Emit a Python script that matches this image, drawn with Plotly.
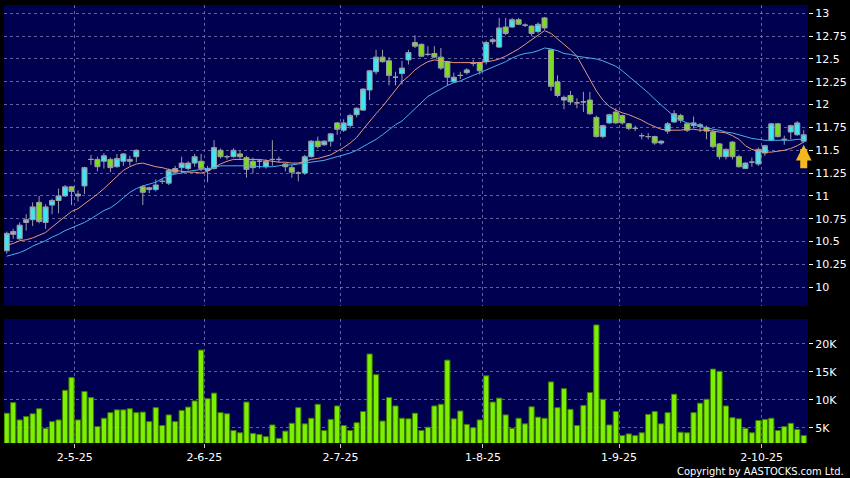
import pandas as pd
import plotly.graph_objects as go

# ---------------- data ----------------
holidays = ["2025-04-18", "2025-04-21", "2025-05-01", "2025-05-05",
            "2025-07-01", "2025-10-01", "2025-10-07"]
dates = [d.strftime("%Y-%m-%d") for d in pd.bdate_range("2025-04-14", "2025-10-13")
         if d.strftime("%Y-%m-%d") not in holidays]

opens = [10.40, 10.58, 10.53, 10.71, 10.74, 10.93, 10.71, 10.90, 10.95, 11.00,
         11.10, 11.00, 11.11, 11.40, 11.40, 11.38, 11.40, 11.32, 11.38, 11.40,
         11.43, 11.10, 11.09, 11.07, 11.16, 11.14, 11.30, 11.31, 11.30, 11.36,
         11.38, 11.28, 11.30, 11.50, 11.43, 11.43, 11.46, 11.42, 11.38, 11.38,
         11.32, 11.40, 11.40, 11.35, 11.31, 11.25, 11.25, 11.43, 11.60, 11.56,
         11.60, 11.80, 11.72, 11.77, 11.89, 11.94, 12.16, 12.36, 12.52, 12.48,
         12.30, 12.34, 12.49, 12.68, 12.66, 12.55, 12.56, 12.52, 12.47, 12.25,
         12.32, 12.35, 12.45, 12.46, 12.47, 12.69, 12.63, 12.85, 12.85, 12.93,
         12.87, 12.86, 12.80, 12.95, 12.60, 12.25, 12.05, 12.10, 12.02, 12.03,
         12.05, 11.86, 11.65, 11.80, 11.92, 11.88, 11.79, 11.74, 11.66, 11.65,
         11.65, 11.58, 11.71, 11.81, 11.88, 11.79, 11.77, 11.78, 11.75, 11.70,
         11.57, 11.43, 11.59, 11.43, 11.30, 11.37, 11.35, 11.47, 11.61, 11.79,
         11.62, 11.70, 11.67, 11.60]
highs = [10.61, 10.64, 10.71, 10.80, 10.93, 11.00, 10.91, 10.97, 11.08, 11.12,
         11.11, 11.06, 11.32, 11.45, 11.43, 11.47, 11.42, 11.46, 11.47, 11.44,
         11.51, 11.12, 11.10, 11.18, 11.19, 11.30, 11.33, 11.43, 11.38, 11.46,
         11.46, 11.33, 11.61, 11.52, 11.45, 11.52, 11.50, 11.44, 11.42, 11.40,
         11.40, 11.61, 11.43, 11.36, 11.34, 11.27, 11.45, 11.61, 11.65, 11.61,
         11.69, 11.81, 11.84, 11.90, 11.97, 12.18, 12.38, 12.60, 12.60, 12.52,
         12.36, 12.48, 12.60, 12.76, 12.67, 12.64, 12.64, 12.62, 12.48, 12.35,
         12.36, 12.40, 12.49, 12.47, 12.70, 12.73, 12.95, 12.95, 12.95, 12.95,
         12.89, 12.87, 12.90, 12.96, 12.60, 12.32, 12.10, 12.15, 12.07, 12.14,
         12.14, 11.88, 11.78, 11.90, 11.96, 11.89, 11.80, 11.77, 11.69, 11.69,
         11.66, 11.61, 11.81, 11.94, 11.90, 11.80, 11.87, 11.80, 11.77, 11.72,
         11.58, 11.52, 11.60, 11.45, 11.37, 11.42, 11.53, 11.56, 11.80, 11.80,
         11.66, 11.78, 11.82, 11.72]
lows = [10.37, 10.53, 10.52, 10.62, 10.67, 10.70, 10.64, 10.80, 10.81, 10.99,
        10.90, 10.94, 11.02, 11.34, 11.27, 11.30, 11.26, 11.31, 11.33, 11.33,
        11.37, 10.90, 11.03, 11.05, 11.13, 11.12, 11.24, 11.25, 11.28, 11.32,
        11.27, 11.15, 11.29, 11.41, 11.40, 11.42, 11.40, 11.20, 11.25, 11.30,
        11.30, 11.33, 11.37, 11.27, 11.20, 11.16, 11.23, 11.42, 11.52, 11.55,
        11.54, 11.67, 11.70, 11.74, 11.86, 11.93, 12.05, 12.33, 12.46, 12.21,
        12.21, 12.22, 12.44, 12.62, 12.52, 12.53, 12.51, 12.38, 12.21, 12.24,
        12.28, 12.33, 12.42, 12.33, 12.44, 12.66, 12.62, 12.76, 12.84, 12.87,
        12.85, 12.75, 12.78, 12.82, 12.15, 12.08, 11.95, 12.00, 11.96, 11.92,
        11.89, 11.64, 11.63, 11.79, 11.79, 11.78, 11.72, 11.71, 11.62, 11.62,
        11.56, 11.56, 11.68, 11.80, 11.80, 11.70, 11.74, 11.70, 11.62, 11.52,
        11.40, 11.40, 11.40, 11.31, 11.30, 11.32, 11.33, 11.44, 11.60, 11.64,
        11.56, 11.62, 11.66, 11.58]
closes = [10.59, 10.61, 10.68, 10.74, 10.88, 10.72, 10.88, 10.95, 11.00, 11.10,
          11.05, 11.02, 11.31, 11.40, 11.32, 11.44, 11.31, 11.41, 11.46, 11.38,
          11.50, 11.04, 11.07, 11.12, 11.16, 11.28, 11.26, 11.36, 11.36, 11.43,
          11.30, 11.30, 11.53, 11.43, 11.43, 11.50, 11.43, 11.29, 11.31, 11.38,
          11.38, 11.40, 11.40, 11.32, 11.26, 11.25, 11.43, 11.60, 11.54, 11.60,
          11.68, 11.73, 11.80, 11.88, 11.96, 12.17, 12.37, 12.52, 12.47, 12.32,
          12.30, 12.40, 12.57, 12.64, 12.53, 12.55, 12.52, 12.40, 12.30, 12.30,
          12.32, 12.38, 12.45, 12.37, 12.68, 12.71, 12.84, 12.78, 12.93, 12.88,
          12.87, 12.78, 12.88, 12.84, 12.20, 12.10, 12.08, 12.03, 12.02, 12.03,
          11.90, 11.65, 11.77, 11.89, 11.80, 11.80, 11.74, 11.74, 11.66, 11.65,
          11.58, 11.60, 11.79, 11.90, 11.83, 11.72, 11.80, 11.76, 11.71, 11.54,
          11.43, 11.51, 11.43, 11.32, 11.36, 11.37, 11.51, 11.55, 11.79, 11.65,
          11.62, 11.77, 11.80, 11.67]

ma10 = [10.46, 10.48, 10.51, 10.52, 10.54, 10.57, 10.60, 10.66, 10.72, 10.78,
        10.83, 10.86, 10.91, 10.97, 11.02, 11.08, 11.15, 11.22, 11.28, 11.32,
        11.35, 11.36, 11.34, 11.32, 11.31, 11.29, 11.28, 11.27, 11.26, 11.26,
        11.25, 11.27, 11.31, 11.35, 11.38, 11.40, 11.40, 11.40, 11.40, 11.40,
        11.39, 11.38, 11.37, 11.37, 11.36, 11.36, 11.38, 11.40, 11.41, 11.43,
        11.45, 11.49, 11.53, 11.58, 11.64, 11.73, 11.82, 11.90, 11.98, 12.07,
        12.16, 12.25, 12.31, 12.38, 12.43, 12.47, 12.49, 12.48, 12.47, 12.46,
        12.46, 12.46, 12.46, 12.46, 12.47, 12.48, 12.50, 12.53, 12.57, 12.61,
        12.66, 12.71, 12.76, 12.81, 12.78, 12.72, 12.67, 12.60, 12.53, 12.40,
        12.28, 12.15, 12.05, 11.98, 11.94, 11.91, 11.89, 11.86, 11.83, 11.79,
        11.76, 11.73, 11.72, 11.72, 11.72, 11.73, 11.73, 11.72, 11.72, 11.71,
        11.70, 11.69, 11.66, 11.62, 11.55, 11.51, 11.49, 11.48, 11.48, 11.49,
        11.50, 11.52, 11.55, 11.59]
ma20 = [10.34, 10.36, 10.38, 10.41, 10.45, 10.48, 10.51, 10.55, 10.58, 10.62,
        10.65, 10.68, 10.71, 10.75, 10.80, 10.84, 10.87, 10.92, 10.98, 11.04,
        11.08, 11.11, 11.13, 11.15, 11.19, 11.22, 11.24, 11.25, 11.27, 11.28,
        11.29, 11.30, 11.31, 11.33, 11.33, 11.33, 11.33, 11.33, 11.33, 11.32,
        11.32, 11.32, 11.33, 11.34, 11.34, 11.35, 11.36, 11.37, 11.38, 11.39,
        11.41, 11.43, 11.45, 11.47, 11.50, 11.54, 11.58, 11.62, 11.67, 11.73,
        11.78, 11.82, 11.89, 11.96, 12.03, 12.09, 12.13, 12.17, 12.21, 12.24,
        12.26, 12.29, 12.32, 12.35, 12.38, 12.41, 12.44, 12.47, 12.51, 12.54,
        12.56, 12.57, 12.59, 12.62, 12.61, 12.59, 12.56, 12.55, 12.53, 12.52,
        12.51, 12.50, 12.48, 12.45, 12.42, 12.37, 12.31, 12.26, 12.19, 12.13,
        12.06, 12.00, 11.93, 11.87, 11.83, 11.80, 11.79, 11.76, 11.75, 11.73,
        11.72, 11.70, 11.69, 11.67, 11.65, 11.63, 11.62, 11.61, 11.61, 11.61,
        11.61, 11.61, 11.62, 11.62]

volumes_k = [7.6, 9.5, 6.4, 7.0, 7.5, 8.4, 4.9, 6.1, 6.4, 11.7,
             14.0, 6.4, 11.5, 10.4, 5.2, 6.7, 7.7, 8.2, 8.2, 8.4,
             7.7, 7.8, 6.1, 8.6, 5.4, 7.3, 6.1, 8.1, 8.7, 9.8,
             18.9, 10.2, 11.2, 7.7, 7.5, 4.5, 4.1, 9.6, 4.0, 3.8,
             3.4, 5.5, 3.1, 4.4, 5.8, 8.6, 5.7, 6.7, 9.2, 4.5,
             6.5, 8.9, 5.4, 4.5, 5.9, 7.9, 18.2, 14.5, 6.2, 10.4,
             8.9, 6.7, 6.6, 7.6, 4.5, 5.1, 8.9, 9.2, 17.1, 6.6,
             8.0, 5.6, 5.0, 6.4, 14.3, 9.6, 10.3, 7.3, 4.9, 6.7,
             5.7, 8.75, 6.9, 6.7, 13.2, 8.6, 12.0, 8.3, 5.4, 9.0,
             11.3, 23.4, 10.1, 5.5, 7.9, 3.6, 3.9, 3.6, 4.1, 7.4,
             7.9, 5.7, 7.7, 11.0, 4.2, 4.1, 7.7, 9.4, 10.1, 15.5,
             15.1, 8.9, 6.8, 6.6, 4.9, 4.1, 6.3, 6.5, 6.7, 4.5,
             5.2, 5.8, 4.7, 3.6]

tick_dates = ["2025-05-02", "2025-06-02", "2025-07-02", "2025-08-01", "2025-09-01", "2025-10-02"]
tick_text = ["2-5-25", "2-6-25", "2-7-25", "1-8-25", "1-9-25", "2-10-25"]
price_ticks = [10, 10.25, 10.5, 10.75, 11, 11.25, 11.5, 11.75, 12, 12.25, 12.5, 12.75, 13]
price_tick_text = ["10", "10.25", "10.5", "10.75", "11", "11.25", "11.5", "11.75",
                   "12", "12.25", "12.5", "12.75", "13"]
vol_ticks = [5000, 10000, 15000, 20000]
vol_tick_text = ["5K", "10K", "15K", "20K"]

# ---------------- figure ----------------
n = len(closes)
x = list(range(n))
volumes = [v * 1000 for v in volumes_k]
tick_pos = [dates.index(d) - 0.5 for d in tick_dates]

CYAN = "#3FE6F2"
GREEN = "#7EDC1E"
WICK = "#9A9EA6"
GRAY = "#A8A8A8"


def subset(idx):
    return ([x[i] for i in idx], [opens[i] for i in idx], [highs[i] for i in idx],
            [lows[i] for i in idx], [closes[i] for i in idx])


up = [i for i in x if closes[i] > opens[i]]
down = [i for i in x if closes[i] < opens[i]]
flat = [i for i in x if closes[i] == opens[i]]

fig = go.Figure()
for idx, fill in ((up, CYAN), (down, GREEN), (flat, GRAY)):
    xs, o, h, l, c = subset(idx)
    fig.add_trace(go.Candlestick(
        x=xs, open=o, high=h, low=l, close=c,
        increasing=dict(fillcolor=fill, line=dict(color=WICK, width=1)),
        decreasing=dict(fillcolor=fill, line=dict(color=WICK, width=1)),
        whiskerwidth=0, xaxis="x", yaxis="y", showlegend=False, hoverinfo="skip"))

fig.add_trace(go.Scatter(x=x, y=ma10, mode="lines", line=dict(color="#E8987A", width=1),
                         xaxis="x", yaxis="y", showlegend=False, hoverinfo="skip"))
fig.add_trace(go.Scatter(x=x, y=ma20, mode="lines", line=dict(color="#4BAFEA", width=1),
                         xaxis="x", yaxis="y", showlegend=False, hoverinfo="skip"))

fig.add_trace(go.Bar(x=x, y=volumes, marker=dict(color="#7CF000", line=dict(color="#3E7A00", width=1)),
                     xaxis="x2", yaxis="y2", showlegend=False, hoverinfo="skip"))

GRID = "rgba(130,130,180,0.75)"
TICKFONT = dict(family="DejaVu Sans, Verdana, sans-serif", size=11, color="#FFFFFF")

fig.update_layout(
    width=850, height=478,
    margin=dict(l=4, r=42, t=5, b=35),
    paper_bgcolor="#000000",
    plot_bgcolor="#000050",
    showlegend=False,
    boxgap=0.12, boxgroupgap=0.12,
    bargap=0.2,
    xaxis=dict(domain=[0, 1], anchor="y", range=[-0.42, 123.66],
               tickvals=tick_pos, showticklabels=False, ticks="",
               showgrid=True, gridcolor=GRID, griddash="dot", gridwidth=1,
               zeroline=False, showline=False, rangeslider=dict(visible=False)),
    xaxis2=dict(domain=[0, 1], anchor="y2", matches="x", range=[-0.42, 123.66],
                tickvals=tick_pos, ticktext=tick_text, ticks="outside", ticklen=4,
                tickcolor="#C8C8C8", tickfont=TICKFONT,
                showgrid=True, gridcolor=GRID, griddash="dot", gridwidth=1,
                zeroline=False, showline=False),
    yaxis=dict(domain=[0.3128, 1], anchor="x", side="right", range=[9.795, 13.091],
               tickvals=price_ticks, ticktext=price_tick_text, ticks="outside", ticklen=4,
               tickcolor="#FFFFFF", tickfont=TICKFONT,
               showgrid=True, gridcolor=GRID, griddash="dot", gridwidth=1,
               zeroline=False, showline=False),
    yaxis2=dict(domain=[0, 0.2831], anchor="x2", side="right", range=[2270, 24460],
                tickvals=vol_ticks, ticktext=vol_tick_text, ticks="outside", ticklen=4,
                tickcolor="#FFFFFF", tickfont=TICKFONT,
                showgrid=True, gridcolor=GRID, griddash="dot", gridwidth=1,
                zeroline=False, showline=False),
)

# arrow marking the latest session
fig.add_annotation(x=x[-1], y=lows[-1] - 0.02, xref="x", yref="y",
                   ax=0, ay=25, text="", showarrow=True, arrowhead=2, arrowsize=0.45,
                   arrowwidth=7, arrowcolor="#F4B81C")

fig.add_annotation(text="Copyright by AASTOCKS.com Ltd.", xref="paper", yref="paper",
                   x=1.0473, y=-0.0655, xanchor="right", yanchor="middle", showarrow=False,
                   font=dict(family="DejaVu Sans Condensed, Liberation Sans Narrow, Liberation Sans, sans-serif",
                             size=11, color="#FFFFFF"))

fig.write_html("out.html",
               config={"displayModeBar": False, "staticPlot": True},
               post_script="document.body.style.margin='0';document.body.style.padding='0';"
                           "document.body.style.background='#000';")
